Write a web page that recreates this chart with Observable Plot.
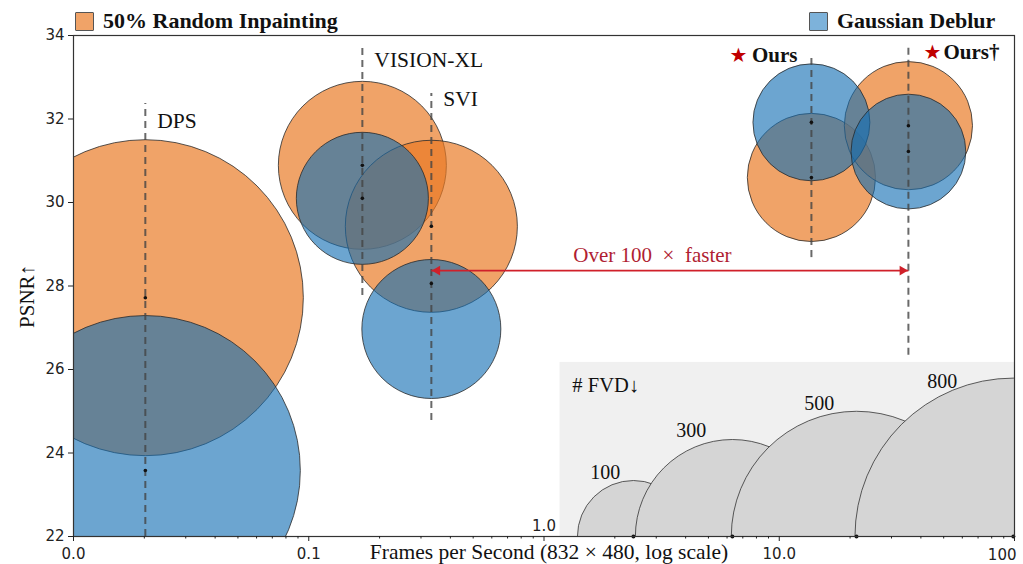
<!DOCTYPE html>
<html><head><meta charset="utf-8">
<script src="https://cdn.jsdelivr.net/npm/d3@7"></script>
<script src="https://cdn.jsdelivr.net/npm/@observablehq/plot@0.6"></script>
<style>
body{margin:0;background:#fff;}
#wrap{position:relative;width:1023px;height:564px;overflow:hidden;}
#wrap svg{position:absolute;left:0;top:0;}
.leg{position:absolute;top:10px;height:22px;display:flex;align-items:center;font-family:"Liberation Serif",serif;font-weight:bold;font-size:22px;color:#111;z-index:2;}
.sw{width:17px;height:17px;border:1px solid #555;margin-right:9px;border-radius:1px;}
</style></head><body>
<div id="wrap">
<div class="leg" style="left:75px"><div class="sw" style="background:#F0A368"></div>50% Random Inpainting</div>
<div class="leg" style="left:809px"><div class="sw" style="background:#7DB2DA"></div>Gaussian Deblur</div>
</div>
<script>
// ---- data ----
const methods = ["DPS", "VISION-XL", "SVI", "Ours", "Ours†"];
const fps = [0.0202, 0.169, 0.332, 13.7, 35.4];
const inpaintPSNR = [27.72, 30.89, 29.43, 30.60, 31.84];
const inpaintFVD = [796, 225, 236, 131, 131];
const deblurPSNR = [23.58, 30.10, 28.06, 31.92, 31.22];
const deblurBubbleY = [23.58, 30.10, 26.97, 31.92, 31.22];
const deblurFVD = [766, 139, 154, 109, 105];
// label / guide positions (PSNR units)
const labelY = [31.94, 33.40, 32.47, 33.52, 33.59];
const guideTop = [32.37, 33.76, 32.61, 33.52, 33.76];
const guideBottom = [22, 27.77, 24.78, 28.68, 26.34];
// inset (FVD size legend)
const fvdLegend = [100, 300, 500, 800];
const fvdLegendX = [2.40, 6.32, 21.3, 98.9];
const fvdLabelX = [1.82, 4.23, 14.8, 49.3];
const fvdLabelY = [23.53, 24.54, 25.19, 25.71];
const insetBox = {x1: 1.17, x2: 100, y1: 22, y2: 26.17};
// arrow annotation
const speedupFrom = 0.332, speedupTo = 35.4, speedupY = 28.37;
const speedupText = "Over 100\u2002×\u2002faster";
const speedupTextX = 2.89, speedupTextY = 28.73;
// axis ticks and titles
const yTicks = [22, 24, 26, 28, 30, 32, 34];
const xMajor = [0.01, 0.1, 1, 10, 100];
const xLabels = {0.01: "0.0", 0.1: "0.1", 10: "10.0"};
const xTitle = "Frames per Second (832 × 480, log scale)";
const yTitle = "PSNR↑";

const inpaint = methods.map((m, i) => ({m, x: fps[i], y: inpaintPSNR[i], fvd: inpaintFVD[i]}));
const deblur = methods.map((m, i) => ({m, x: fps[i], y: deblurBubbleY[i], fvd: deblurFVD[i]}));
const dots = methods.flatMap((m, i) => [{x: fps[i], y: inpaintPSNR[i]}, {x: fps[i], y: deblurPSNR[i]}]);
const guides = methods.map((m, i) => ({x: fps[i], y1: guideBottom[i], y2: guideTop[i]}));
const labels = methods.map((m, i) => ({m, x: fps[i], y: labelY[i]}));
const legendRows = fvdLegend.map((v, i) => ({v, x: fvdLegendX[i], y: 22, lx: fvdLabelX[i], ly: fvdLabelY[i]}));
const xMinor = [];
for (const d of [0.01, 0.1, 1, 10]) for (let k = 2; k <= 9; k++) xMinor.push(d * k);

const SERIF = "Liberation Serif, Times New Roman, serif";
const ORANGE = "#E97A24", BLUE = "#126EB3";

const plainLabels = labels.filter(d => d.m !== "Ours" && d.m !== "Ours†");
const oursL = labels.filter(d => d.m === "Ours");
const oursD = labels.filter(d => d.m === "Ours†");

const chart = Plot.plot({
  width: 1023, height: 564,
  marginTop: 35, marginRight: 9, marginBottom: 28, marginLeft: 73,
  style: {fontFamily: "DejaVu Sans", fontSize: "15px", color: "#222", background: "transparent"},
  x: {type: "log", domain: [0.01, 100]},
  y: {domain: [22, 34]},
  r: {type: "sqrt", domain: [0, 800], range: [0, 5.6 * Math.sqrt(800)]},
  marks: [
    // inset background
    Plot.rect([insetBox], {x1: "x1", x2: "x2", y1: "y1", y2: "y2", fill: "#F0F0F0"}),
    Plot.dot(legendRows, {x: "x", y: "y", r: "v", sort: null, fill: "#D5D5D5", stroke: "#333", strokeWidth: 0.8, clip: true}),
    Plot.dot(legendRows, {x: "x", y: "y", r: 2, fill: "#111"}),
    Plot.text(legendRows, {x: "lx", y: "ly", text: d => String(d.v), fontFamily: SERIF, fontSize: 20, fill: "#111"}),
    Plot.text(["# FVD↓"], {x: 1.32, y: 25.62, text: d => d, textAnchor: "start", fontFamily: SERIF, fontSize: 20.5, fill: "#111"}),
    // bubbles
    Plot.dot(inpaint, {x: "x", y: "y", r: "fvd", sort: null, fill: ORANGE, fillOpacity: 0.69, stroke: "#2a2a2a", strokeWidth: 0.8, clip: true}),
    Plot.dot(deblur, {x: "x", y: "y", r: "fvd", sort: null, fill: BLUE, fillOpacity: 0.62, stroke: "#2a2a2a", strokeWidth: 0.8, clip: true}),
    // dashed guides
    Plot.ruleX(guides, {x: "x", y1: "y1", y2: "y2", stroke: "#444", strokeOpacity: 0.8, strokeWidth: 2, strokeDasharray: "7,5"}),
    Plot.dot(dots, {x: "x", y: "y", r: 1.8, fill: "#111"}),
    // speed-up arrow
    Plot.link([{x1: speedupFrom, x2: speedupTo, y: speedupY}], {x1: "x1", x2: "x2", y1: "y", y2: "y", stroke: "#D0202A", strokeWidth: 1.8}),
    Plot.dot([{x: speedupFrom, y: speedupY}], {x: "x", y: "y", symbol: "triangle", r: 3.6, rotate: -90, dx: 6, fill: "#D0202A", stroke: "none"}),
    Plot.dot([{x: speedupTo, y: speedupY}], {x: "x", y: "y", symbol: "triangle", r: 3.6, rotate: 90, dx: -6, fill: "#D0202A", stroke: "none"}),
    Plot.text([speedupText], {x: speedupTextX, y: speedupTextY, text: d => d, fontFamily: SERIF, fontSize: 21, fill: "#B01E32"}),
    // method labels
    Plot.text(plainLabels, {x: "x", y: "y", text: "m", textAnchor: "start", dx: 12, fontFamily: SERIF, fontSize: 21.5, fill: "#111"}),
    Plot.text(oursL, {x: "x", y: "y", text: "m", textAnchor: "end", dx: -14, fontFamily: SERIF, fontSize: 21, fontWeight: "bold", fill: "#111"}),
    Plot.text(oursL, {x: "x", y: "y", text: () => "★", textAnchor: "end", dx: -64, fontFamily: "DejaVu Sans", fontSize: 20, fill: "#C00000"}),
    Plot.text(oursD, {x: "x", y: "y", text: () => "★", textAnchor: "start", dx: 15, fontFamily: "DejaVu Sans", fontSize: 20, fill: "#C00000"}),
    Plot.text(oursD, {x: "x", y: "y", text: "m", textAnchor: "start", dx: 35, fontFamily: SERIF, fontSize: 21, fontWeight: "bold", fill: "#111"}),
    // frame and axes
    Plot.frame({stroke: "#333", strokeWidth: 1.2}),
    Plot.axisY({ticks: yTicks, tickSize: 5, tickPadding: 4, label: null}),
    Plot.axisX({ticks: xMinor, tickSize: 2.5, tickFormat: () => "", label: null}),
    Plot.axisX({ticks: xMajor, tickSize: 5, tickPadding: 7, tickFormat: d => xLabels[d] ?? "", label: null}),
    Plot.text(["1.0"], {x: 1, y: 22, text: d => d, dy: -10, fill: "#222"}),
    Plot.text(["100"], {x: 100, y: 22, text: d => d, dy: 19, textAnchor: "end", dx: 2, fill: "#222"}),
    Plot.text([xTitle], {frameAnchor: "bottom", text: d => d, dy: 22, dx: 5, fontFamily: SERIF, fontSize: 21.5, fill: "#111"}),
    Plot.text([yTitle], {y: 27.75, frameAnchor: "left", textAnchor: "middle", text: d => d, rotate: -90, dx: -46, fontFamily: SERIF, fontSize: 21, fill: "#111"})
  ]
});
document.getElementById("wrap").appendChild(chart);
</script>
</body></html>
